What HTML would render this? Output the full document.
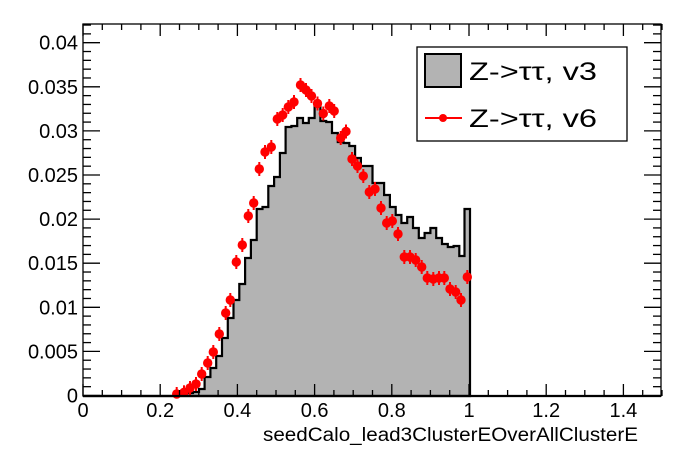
<!DOCTYPE html>
<html><head><meta charset="utf-8"><style>
html,body{margin:0;padding:0;background:#fff;}
svg{display:block;font-family:"Liberation Sans",sans-serif;}
</style></head><body>
<svg width="696" height="472" viewBox="0 0 696 472" xmlns="http://www.w3.org/2000/svg">
<rect width="696" height="472" fill="#fff"/>
<path id="h" d="M83,396 L187,396 L187,393 L193,393 L193,392 L199,392 L199,389 L204.6,389 L204.6,377 L210.4,377 L210.4,368 L216.2,368 L216.2,356 L222,356 L222,338 L227.8,338 L227.8,318 L233.5,318 L233.5,300 L239.3,300 L239.3,284 L245.1,284 L245.1,258 L250.9,258 L250.9,240 L256.7,240 L256.7,209 L262.5,209 L262.5,207 L268.3,207 L268.3,186 L274.1,186 L274.1,177 L279.9,177 L279.9,153 L285.6,153 L285.6,127 L291.4,127 L291.4,126 L297.2,126 L297.2,118 L303,118 L303,123 L308.8,123 L308.8,118 L314.6,118 L314.6,105 L320.4,105 L320.4,121 L326.2,121 L326.2,122 L332,122 L332,133 L337.8,133 L337.8,142 L343.5,142 L343.5,143 L349.3,143 L349.3,146 L355.1,146 L355.1,158 L360.9,158 L360.9,166 L372.5,166 L372.5,183 L384.1,183 L384.1,195 L389.9,195 L389.9,207 L395.7,207 L395.7,215 L401.4,215 L401.4,223 L407.2,223 L407.2,217 L413,217 L413,228 L418.8,228 L418.8,238 L424.6,238 L424.6,233 L430.4,233 L430.4,228 L436.2,228 L436.2,238 L442,238 L442,244 L447.8,244 L447.8,247 L453.6,247 L453.6,246 L459.3,246 L459.3,256 L464.5,256 L464.5,209 L470,209 L470,396 Z" fill="#b3b3b3" stroke="#000" stroke-width="2.2"/>
<g fill="#f00" stroke="#f00" stroke-width="2">
<g id="pts"></g>
</g>
<rect x="83" y="24" width="578" height="372" fill="none" stroke="#000" stroke-width="1.3"/>
<line x1="83" y1="396" x2="661" y2="396" stroke="#000" stroke-width="2.2"/>
<g id="ticks" stroke="#000" stroke-width="1.3"></g>
<g id="labels" font-size="20" fill="#000"></g>
<text x="263" y="441" font-size="19" textLength="375" lengthAdjust="spacingAndGlyphs">seedCalo_lead3ClusterEOverAllClusterE</text>
<rect x="417" y="47" width="210" height="94" fill="#fff" stroke="#000" stroke-width="1.3"/>
<rect x="425" y="54" width="36" height="33" fill="#b3b3b3" stroke="#000" stroke-width="2"/>
<text x="469" y="80" font-size="25" textLength="128" lengthAdjust="spacingAndGlyphs">Z-&gt;ττ, v3</text>
<line x1="425" y1="118" x2="462" y2="118" stroke="#f00" stroke-width="2"/>
<circle cx="443" cy="118" r="4" fill="#f00"/>
<text x="469" y="127" font-size="25" textLength="128" lengthAdjust="spacingAndGlyphs">Z-&gt;ττ, v6</text>
</svg>
<script>
var NS="http://www.w3.org/2000/svg";
var P=[[176.7,394],[184,392.3],[190,388],[196,384],[201.7,374],[207.7,363],[213.3,352],[219.3,334],[225.7,313],[230.3,300],[236.3,262],[242.3,245],[248.3,216],[253.7,203],[259.3,169],[265,152],[271.3,147],[277.3,119],[282.7,115],[288.3,107],[294,102],[300.5,85],[306,90],[311.5,96],[317.5,103.5],[323.3,113.5],[329.3,106],[334.2,111],[340.7,138],[346,131.5],[352,159],[357.5,166],[363.3,176],[369.3,192],[375,189],[381,208],[386.7,223],[392.3,221],[398,234],[404.3,257],[410,257],[415.7,260],[421.7,267],[427.3,278],[433.3,279],[439,278],[444.3,278],[450,289],[455.7,292],[461,300],[467.3,277]];
var g=document.getElementById("pts");
P.forEach(function(p){
 var c=document.createElementNS(NS,"circle");c.setAttribute("cx",p[0]);c.setAttribute("cy",p[1]);c.setAttribute("r","4.7");c.setAttribute("stroke","none");g.appendChild(c);
 var l=document.createElementNS(NS,"line");l.setAttribute("x1",p[0]);l.setAttribute("x2",p[0]);l.setAttribute("y1",p[1]-7);l.setAttribute("y2",Math.min(p[1]+7,396));g.appendChild(l);
});
var t=document.getElementById("ticks"),lab=document.getElementById("labels");
function L(x1,y1,x2,y2){var l=document.createElementNS(NS,"line");l.setAttribute("x1",x1);l.setAttribute("y1",y1);l.setAttribute("x2",x2);l.setAttribute("y2",y2);t.appendChild(l);}
function T(x,y,s,a){var e=document.createElementNS(NS,"text");e.setAttribute("x",x);e.setAttribute("y",y);e.setAttribute("text-anchor",a);e.textContent=s;lab.appendChild(e);}
var x0=83,sx=386;
for(var i=0;i<=30;i++){var v=i*0.05,x=x0+v*sx;var maj=(i%4==0);var len=maj?12:6;
 L(x,396,x,396-len);L(x,24,x,24+len);
 if(maj){var s=(Math.round(v*10)/10).toString();T(x,417,s,"middle");}}
var y0=395.5,sy=8820;
for(var j=0;j<=42;j++){var v=j*0.001,y=y0-v*sy;if(y<24)break;var maj=(j%5==0);var len=maj?17:8;
 L(83,y,83+len,y);L(661,y,661-len,y);
 if(maj){var s=j==0?"0":(j%10==0?(j/1000).toFixed(2):(j/1000).toFixed(3));T(78,y+7,s,"end");}}
</script>
</body></html>
